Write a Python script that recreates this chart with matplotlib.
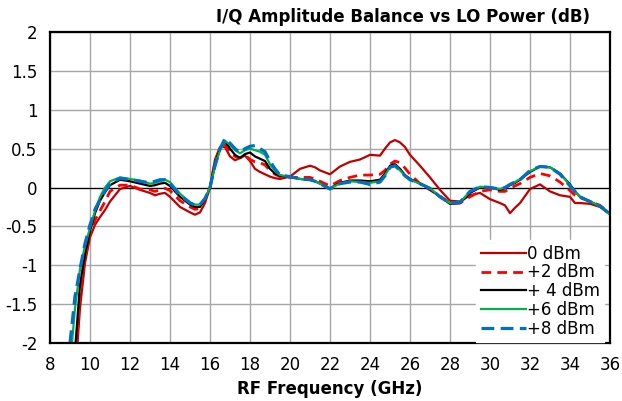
import matplotlib
matplotlib.use("Agg")
import matplotlib.pyplot as plt

# RF frequency grid (GHz)
freq = [9.0, 9.25, 9.5, 9.75, 10.0, 10.25, 10.5, 10.75, 11.0, 11.5,
        12.0, 12.5, 13.0, 13.25, 13.5, 13.75, 14.0, 14.5, 15.0, 15.25,
        15.5, 15.75, 16.0, 16.25, 16.5, 16.75, 17.0, 17.25, 17.5, 17.75,
        18.0, 18.25, 18.5, 18.75, 19.0, 19.25, 19.5, 20.0, 20.5, 21.0,
        21.25, 21.5, 22.0, 22.5, 23.0, 23.5, 24.0, 24.5, 24.75, 25.0,
        25.25, 25.5, 25.75, 26.0, 26.5, 27.0, 27.5, 28.0, 28.5, 29.0,
        29.5, 30.0, 30.5, 30.75, 31.0, 31.25, 31.5, 32.0, 32.5, 33.0,
        33.5, 34.0, 34.25, 34.5, 35.0, 35.5, 36.0]

# amplitude balance (dB) per LO power
lo_0dbm = [-2.8, -2.45, -1.55, -0.97, -0.64, -0.48, -0.38, -0.29, -0.18, -0.02,
           0.02, -0.03, -0.07, -0.10, -0.08, -0.07, -0.12, -0.25, -0.32, -0.35,
           -0.32, -0.20, 0.00, 0.36, 0.52, 0.52, 0.40, 0.35, 0.38, 0.41,
           0.34, 0.24, 0.20, 0.17, 0.14, 0.12, 0.11, 0.14, 0.24, 0.28,
           0.26, 0.22, 0.17, 0.27, 0.33, 0.36, 0.42, 0.41, 0.50, 0.58,
           0.61, 0.58, 0.52, 0.42, 0.28, 0.13, -0.03, -0.17, -0.18, -0.10,
           -0.07, -0.15, -0.20, -0.23, -0.33, -0.26, -0.20, -0.02, 0.04, -0.05,
           -0.10, -0.12, -0.20, -0.20, -0.21, -0.25, -0.34]

lo_2dbm = [-2.7, -2.3, -1.35, -0.90, -0.60, -0.42, -0.30, -0.18, -0.05, 0.03,
           0.03, -0.02, -0.03, -0.05, -0.03, -0.01, -0.04, -0.17, -0.25, -0.28,
           -0.27, -0.16, 0.00, 0.33, 0.50, 0.55, 0.45, 0.40, 0.38, 0.42,
           0.36, 0.33, 0.32, 0.29, 0.22, 0.17, 0.14, 0.13, 0.13, 0.13,
           0.11, 0.08, 0.02, 0.09, 0.13, 0.16, 0.16, 0.17, 0.22, 0.30,
           0.34, 0.32, 0.25, 0.17, 0.05, -0.03, -0.11, -0.20, -0.20, -0.12,
           -0.05, -0.03, -0.05, -0.05, -0.01, 0.02, 0.05, 0.13, 0.18, 0.15,
           0.07, -0.04, -0.10, -0.13, -0.18, -0.23, -0.33]

lo_4dbm = [-2.5, -2.1, -1.25, -0.85, -0.56, -0.33, -0.17, -0.06, 0.03, 0.10,
           0.08, 0.05, 0.02, 0.03, 0.05, 0.06, 0.02, -0.12, -0.22, -0.25,
           -0.25, -0.15, 0.00, 0.30, 0.50, 0.60, 0.50, 0.42, 0.38, 0.43,
           0.45, 0.40, 0.37, 0.34, 0.24, 0.18, 0.15, 0.14, 0.11, 0.10,
           0.08, 0.05, -0.01, 0.06, 0.09, 0.09, 0.08, 0.10, 0.18, 0.28,
           0.30, 0.24, 0.16, 0.11, 0.05, -0.02, -0.12, -0.21, -0.20, -0.07,
           0.00, 0.00, -0.03, -0.01, 0.03, 0.06, 0.10, 0.20, 0.27, 0.26,
           0.18, 0.04, -0.05, -0.12, -0.18, -0.24, -0.34]

lo_6dbm = [-2.3, -1.55, -1.05, -0.75, -0.52, -0.30, -0.12, 0.00, 0.08, 0.13,
           0.11, 0.09, 0.05, 0.06, 0.08, 0.10, 0.07, -0.08, -0.19, -0.22,
           -0.22, -0.14, 0.00, 0.27, 0.48, 0.60, 0.55, 0.48, 0.44, 0.48,
           0.50, 0.48, 0.46, 0.42, 0.30, 0.21, 0.16, 0.14, 0.11, 0.10,
           0.08, 0.05, -0.01, 0.05, 0.08, 0.07, 0.06, 0.08, 0.16, 0.26,
           0.28, 0.22, 0.15, 0.10, 0.05, -0.01, -0.12, -0.20, -0.19, -0.05,
           0.01, 0.00, -0.02, 0.00, 0.04, 0.07, 0.11, 0.21, 0.27, 0.26,
           0.18, 0.03, -0.05, -0.12, -0.18, -0.24, -0.35]

lo_8dbm = [-2.0, -1.40, -1.05, -0.72, -0.48, -0.28, -0.16, -0.05, 0.05, 0.12,
           0.10, 0.08, 0.06, 0.08, 0.10, 0.10, 0.05, -0.10, -0.20, -0.23,
           -0.22, -0.14, 0.00, 0.28, 0.50, 0.63, 0.57, 0.50, 0.45, 0.50,
           0.53, 0.54, 0.50, 0.46, 0.34, 0.24, 0.16, 0.14, 0.11, 0.10,
           0.08, 0.05, -0.02, 0.05, 0.07, 0.07, 0.04, 0.07, 0.15, 0.26,
           0.28, 0.22, 0.15, 0.10, 0.05, -0.01, -0.12, -0.20, -0.19, -0.05,
           0.01, 0.00, -0.02, 0.00, 0.04, 0.07, 0.10, 0.22, 0.27, 0.26,
           0.17, 0.02, -0.05, -0.12, -0.18, -0.24, -0.34]

labels = ["0 dBm", "+2 dBm", "+ 4 dBm", "+6 dBm", "+8 dBm"]

fig = plt.figure(figsize=(6.22, 4.01), dpi=100)
ax = fig.add_axes([0.0804, 0.1446, 0.9003, 0.7756])

ax.plot(freq, lo_0dbm, color="#C00000", lw=1.6, label=labels[0], solid_joinstyle="round")
ax.plot(freq, lo_2dbm, color="#FF0000", lw=2.0, dashes=(3.5, 2.2), label=labels[1])
ax.plot(freq, lo_4dbm, color="black", lw=1.6, label=labels[2], solid_joinstyle="round")
ax.plot(freq, lo_6dbm, color="#00B050", lw=1.6, label=labels[3], solid_joinstyle="round")
ax.plot(freq, lo_8dbm, color="#0070C0", lw=2.3, dashes=(4, 2), label=labels[4])

ax.axhline(0, color="black", lw=0.9, zorder=1.5)

ax.set_xlim(8, 36)
ax.set_ylim(-2, 2)
ax.set_xticks(range(8, 37, 2))
ax.set_yticks([-2, -1.5, -1, -0.5, 0, 0.5, 1, 1.5, 2])
ax.set_yticklabels(["-2", "-1.5", "-1", "-0.5", "0", "0.5", "1", "1.5", "2"])
ax.grid(True, color="#A6A6A6", lw=1.0)
ax.set_axisbelow(True)
ax.tick_params(length=0, labelsize=12)
ax.tick_params(axis="x", pad=9)
ax.tick_params(axis="y", pad=9)
for s in ax.spines.values():
    s.set_linewidth(1.6)
    s.set_color("black")

ax.set_xlabel("RF Frequency (GHz)", fontsize=12, fontweight="bold", labelpad=5)
fig.text(0.949, 0.958, "I/Q Amplitude Balance vs LO Power (dB)", ha="right", va="center",
         fontsize=12, fontweight="bold")

leg = ax.legend(loc="lower right", bbox_to_anchor=(0.99, 0.003), fontsize=12,
                handlelength=2.7, handletextpad=0.1, labelspacing=0.05,
                borderaxespad=0.0, borderpad=0.25, frameon=True, fancybox=False)
leg.get_frame().set_facecolor("white")
leg.get_frame().set_edgecolor("white")
leg.get_frame().set_alpha(1.0)

plt.savefig("out.png", dpi=100)
